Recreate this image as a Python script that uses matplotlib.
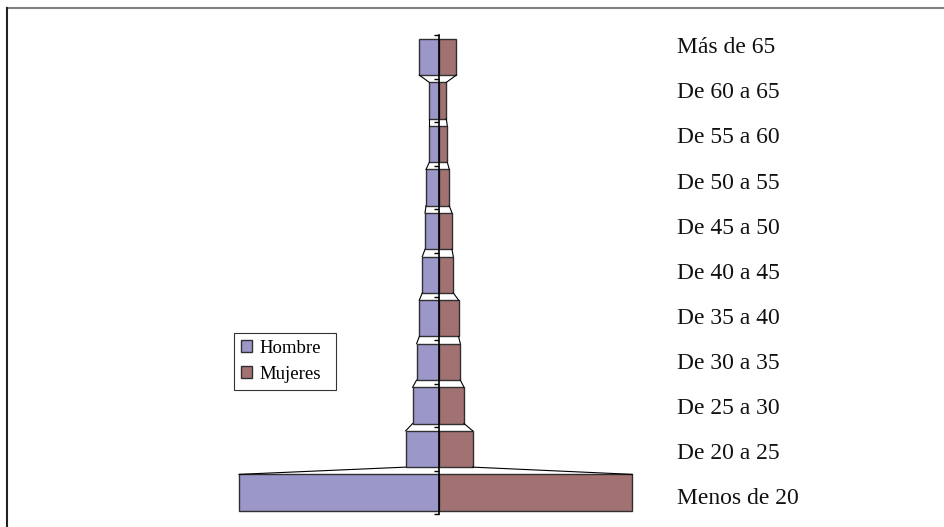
import numpy as np
import matplotlib.pyplot as plt
from matplotlib.lines import Line2D

# datos (de abajo hacia arriba)
grupos = ["Menos de 20", "De 20 a 25", "De 25 a 30", "De 30 a 35", "De 35 a 40",
          "De 40 a 45", "De 45 a 50", "De 50 a 55", "De 55 a 60", "De 60 a 65",
          "Más de 65"]
hombre = [200.3, 33.6, 26.7, 22.7, 20.0, 17.0, 14.3, 13.3, 10.0, 10.0, 20.0]
mujeres = [193.0, 33.4, 24.7, 21.0, 19.3, 14.0, 12.7, 10.0, 8.0, 7.0, 17.0]

color_h = '#9c97c9'
color_m = '#a27272'
borde = '#303030'

plt.rcParams['font.family'] = ['Liberation Serif', 'DejaVu Serif']

fig = plt.figure(figsize=(9.44, 5.27), dpi=100)
ax = fig.add_axes([189.3 / 944, 1 - 514.3 / 527, 500 / 944, (514.3 - 35.2) / 527])

y = np.arange(len(grupos))
h = 0.834
H = np.array(hombre)
M = np.array(mujeres)

ax.barh(y, -H, height=h, color=color_h, edgecolor=borde, linewidth=1, label='Hombre')
ax.barh(y, M, height=h, color=color_m, edgecolor=borde, linewidth=1, label='Mujeres')

# lineas de serie entre barras
for i in range(len(grupos) - 1):
    ax.plot([-H[i], -H[i + 1]], [y[i] + h / 2, y[i + 1] - h / 2], color='black', lw=0.8)
    ax.plot([M[i], M[i + 1]], [y[i] + h / 2, y[i + 1] - h / 2], color='black', lw=0.8)

ax.set_xlim(-250, 250)
ax.set_ylim(-0.5, len(grupos) - 0.5)

# eje vertical en x = 0
for s in ['top', 'right', 'bottom']:
    ax.spines[s].set_visible(False)
ax.spines['left'].set_position(('data', 0))
ax.spines['left'].set_linewidth(1.2)
ax.spines['left'].set_zorder(5)
ax.set_yticks(np.arange(-0.5, len(grupos), 1.0))
ax.set_yticklabels([])
ax.tick_params(axis='y', direction='out', length=3.5, width=1)
ax.set_xticks([])
ax.patch.set_alpha(0)

# etiquetas de los grupos a la derecha
for i, g in enumerate(grupos[::-1]):
    yb = 53.3 + i * 45.1
    fig.text(677 / 944, 1 - yb / 527, g, fontsize=17, va='baseline', ha='left', color='#111111')

leg = ax.legend(loc='upper left',
                bbox_to_anchor=(234 / 944, 1 - 390 / 527, 102 / 944, 57 / 527),
                bbox_transform=fig.transFigure, mode='expand', fontsize=13.5,
                frameon=True, fancybox=False,
                handlelength=0.6, handleheight=0.6, handletextpad=0.4,
                borderpad=0.35, labelspacing=0.5, borderaxespad=0)
leg.get_frame().set_edgecolor('black')
leg.get_frame().set_linewidth(0.8)

# borde del grafico
fig.add_artist(Line2D([7 / 944, 1], [1 - 8 / 527, 1 - 8 / 527], color='#808080', lw=1.5,
                      transform=fig.transFigure))
fig.add_artist(Line2D([7 / 944, 7 / 944], [0, 1 - 8 / 527], color='#222222', lw=1.5,
                      transform=fig.transFigure))

fig.savefig('out.png', dpi=100)
